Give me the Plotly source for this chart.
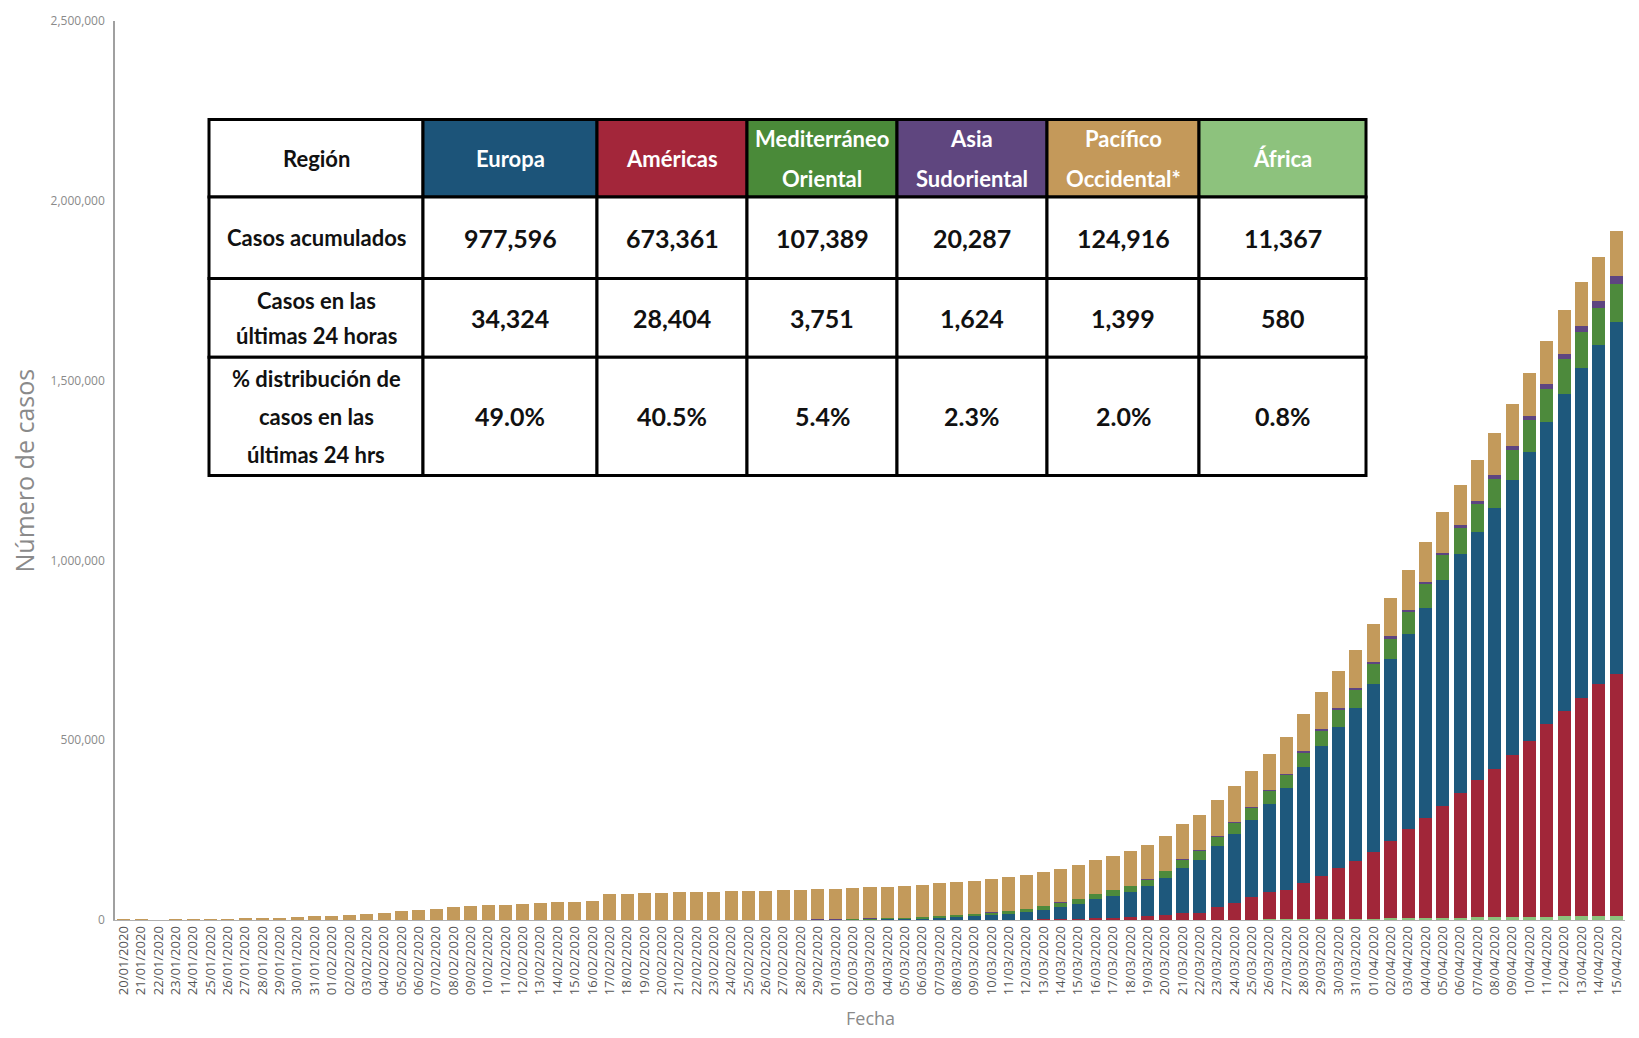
"""
COVID-19 casos acumulados por región OMS — barras apiladas con tabla resumen
"""

import pandas as pd
import plotly.graph_objects as go

# ---- datos ---------------------------------------------------------------
fechas = pd.date_range("2020-01-20", "2020-04-15").strftime("%d/%m/%Y").tolist()

africa = [
    0, 0, 0, 0, 0, 0, 0, 0, 0, 0, 0, 0, 0, 0, 0, 0, 0, 0, 0, 0, 0, 0, 0, 0, 0,
    0, 0, 0, 0, 0, 0, 0, 0, 0, 0, 0, 1, 1, 1, 2, 2, 2, 3, 3, 5, 6, 8, 10, 12,
    15, 20, 25, 30, 40, 60, 90, 130, 170, 250, 330, 470, 600, 800, 900, 1100,
    1300, 1600, 1800, 2100, 2500, 2900, 3300, 3900, 4400, 5000, 5500, 6000,
    6600, 7100, 7600, 8400, 9000, 9700, 10100, 10500, 10787, 11367,
]
americas = [
    0, 1, 0, 1, 1, 2, 3, 5, 6, 7, 8, 9, 10, 11, 15, 15, 16, 17, 19, 19, 19,
    19, 20, 20, 22, 22, 22, 23, 23, 23, 23, 24, 24, 24, 35, 53, 53, 59, 61,
    65, 70, 80, 95, 110, 130, 160, 230, 300, 380, 470, 600, 800, 1100, 1600,
    2100, 2800, 4300, 5200, 6900, 9500, 13500, 18000, 18500, 36000, 47000,
    62000, 75000, 81000, 101000, 120000, 143000, 160000, 185000, 216000,
    249000, 278000, 312000, 346000, 383000, 413000, 450000, 489000, 534000,
    571000, 607000, 644957, 673361,
]
europa = [
    0, 0, 0, 0, 0, 3, 3, 3, 4, 8, 10, 13, 22, 23, 28, 28, 30, 31, 31, 35, 37,
    39, 41, 44, 45, 45, 46, 46, 46, 46, 47, 47, 47, 48, 80, 130, 240, 400, 650,
    890, 1300, 1600, 2200, 2500, 3000, 3600, 4500, 6000, 7700, 9900, 12500,
    16000, 21000, 26800, 34379, 42877, 53185, 61691, 69927, 83859, 101603,
    126073, 148142, 167880, 192407, 215579, 247034, 283264, 321628, 361035,
    391724, 426490, 468126, 504850, 541303, 585435, 627158, 663956, 689422,
    726261, 764798, 803652, 841009, 882888, 916484, 943272, 977596,
]
mediterraneo = [
    0, 0, 0, 0, 0, 0, 0, 0, 0, 4, 4, 4, 4, 5, 5, 5, 5, 5, 5, 7, 7, 7, 8, 8,
    8, 8, 8, 9, 9, 9, 9, 12, 20, 36, 40, 72, 130, 190, 270, 400, 500, 700,
    1000, 1700, 2500, 3000, 3900, 5000, 6100, 7100, 7900, 8700, 9600, 10700,
    12000, 13400, 14800, 16500, 18000, 19500, 21000, 23000, 25500, 28000,
    31000, 33000, 35500, 38500, 41000, 44000, 47000, 51000, 55000, 58000,
    62000, 65500, 69000, 72500, 76000, 80000, 84000, 88000, 92000, 96000,
    100000, 103638, 107389,
]
asia_sudoriental = [
    2, 2, 0, 4, 5, 5, 8, 9, 9, 15, 16, 16, 21, 22, 23, 28, 28, 29, 29, 35, 35,
    35, 36, 36, 36, 36, 37, 37, 37, 37, 38, 38, 38, 38, 38, 38, 38, 38, 40, 40,
    42, 42, 43, 45, 50, 75, 80, 85, 90, 95, 100, 110, 150, 250, 300, 350, 400,
    450, 550, 650, 800, 1000, 1200, 1450, 1750, 2000, 2350, 2600, 2950, 3300,
    3600, 4100, 4600, 5200, 6000, 6700, 7600, 8400, 9200, 10000, 11000, 12300,
    13600, 14900, 16500, 18663, 20287,
]
pacifico = [
    280, 311, 0, 576, 840, 1310, 2000, 2781, 4574, 6031, 7780, 9784, 11896,
    14496, 17320, 20554, 24475, 28194, 31397, 34790, 37460, 40454, 42998,
    45063, 46886, 48942, 50467, 51742, 71314, 73217, 75087, 75627, 76640,
    77648, 78618, 79038, 79777, 80421, 81272, 82255, 83489, 84713, 85607,
    86512, 87405, 88483, 89474, 90532, 91304, 91997, 92582, 92684, 93168,
    93368, 93700, 94000, 94700, 95100, 95500, 96000, 96700, 97400, 98000,
    98700, 99500, 100300, 101200, 102000, 103000, 104000, 105000, 106000,
    107000, 108000, 109000, 110500, 112000, 113500, 115000, 116500, 118000,
    119300, 120600, 121700, 122600, 123517, 124916,
]

# tabla resumen
encabezados = [["Europa"], ["Américas"], ["Mediterráneo", "Oriental"],
               ["Asia", "Sudoriental"], ["Pacífico", "Occidental*"], ["África"]]
casos_acumulados = [977596, 673361, 107389, 20287, 124916, 11367]
casos_24h = [34324, 28404, 3751, 1624, 1399, 580]
distribucion_pct = [49.0, 40.5, 5.4, 2.3, 2.0, 0.8]
etiquetas_filas = [["Región"], ["Casos acumulados"], ["Casos en las", "últimas 24 horas"],
                   ["% distribución de", "casos en las", "últimas 24 hrs"]]

# ---- estilo --------------------------------------------------------------
W, H = 1639, 1038
M_L, M_R, M_T, M_B = 115, 14, 16, 118

COLORES = {
    "África": "#8CC27C",
    "Américas": "#A12639",
    "Europa": "#1E587C",
    "Mediterráneo Oriental": "#4D8A3C",
    "Asia Sudoriental": "#5E4581",
    "Pacífico Occidental": "#C39A5B",
}
COLOR_ENC = ["#1C5479", "#A3263A", "#4A8A39", "#5F467F", "#C4995A", "#8DC27D"]

TABLE_FONT = "Lato"
AXIS_FONT = "Open Sans"


def px(x):
    return (x - M_L) / (W - M_L - M_R)


def py(y):
    return (H - M_B - y) / (H - M_T - M_B)


fig = go.Figure()
for nombre, valores in [
    ("África", africa),
    ("Américas", americas),
    ("Europa", europa),
    ("Mediterráneo Oriental", mediterraneo),
    ("Asia Sudoriental", asia_sudoriental),
    ("Pacífico Occidental", pacifico),
]:
    fig.add_trace(go.Bar(x=fechas, y=valores, name=nombre,
                         marker=dict(color=COLORES[nombre], line_width=0)))

# ---- tabla (celdas dibujadas como formas) -----------------------------------
col_x = [209, 423, 597, 747, 897, 1047, 1199, 1366]
row_y = [115, 193, 275, 354, 473]
row_gap = [40, 38, 35, 38]  # separación entre líneas de texto por fila

filas = [
    None,
    [f"{v:,}" for v in casos_acumulados],
    [f"{v:,}" for v in casos_24h],
    [f"{v:.1f}%" for v in distribucion_pct],
]


def add_lines(lines, x0, x1, y0, y1, gap, size, color):
    cx = (x0 + x1) / 2
    cy = (y0 + y1) / 2
    n = len(lines)
    for k, t in enumerate(lines):
        yy = cy + (k - (n - 1) / 2) * gap
        fig.add_annotation(
            x=px(cx), y=py(yy), xref="paper", yref="paper", text=t,
            showarrow=False, xanchor="center", yanchor="middle",
            font=dict(family=TABLE_FONT, size=size, color=color, weight="bold"),
        )


for r in range(4):
    y0, y1 = row_y[r], row_y[r + 1]
    for c in range(7):
        x0, x1 = col_x[c], col_x[c + 1]
        fill = "white" if (r > 0 or c == 0) else COLOR_ENC[c - 1]
        fig.add_shape(type="rect", xref="paper", yref="paper",
                      x0=px(x0), x1=px(x1), y0=py(y1), y1=py(y0),
                      fillcolor=fill, line=dict(color="black", width=3))
        if c == 0:
            add_lines(etiquetas_filas[r], x0, x1, y0, y1, row_gap[r], 22, "#111111")
        elif r == 0:
            add_lines(encabezados[c - 1], x0, x1, y0, y1, row_gap[r], 22, "white")
        else:
            add_lines([filas[r][c - 1]], x0, x1, y0, y1, row_gap[r], 25, "#111111")

# ---- títulos de ejes ----------------------------------------------------
fig.add_annotation(x=px(23), y=0.5, xref="paper", yref="paper",
                   xanchor="center", yanchor="middle",
                   text="Número de casos", textangle=-90, showarrow=False,
                   font=dict(family=AXIS_FONT, size=25, color="#8a8a8a"))
fig.add_annotation(x=0.5, y=py(1019), xref="paper", yref="paper",
                   xanchor="center", yanchor="middle",
                   text="Fecha", showarrow=False,
                   font=dict(family=AXIS_FONT, size=18, color="#8a8a8a"))

fig.update_layout(
    barmode="stack",
    bargap=0.25,
    width=W,
    height=H,
    margin=dict(l=M_L, r=M_R, t=M_T, b=M_B),
    showlegend=False,
    paper_bgcolor="#FFFFFF",
    plot_bgcolor="#FFFFFF",
    xaxis=dict(
        type="category", tickangle=-90, showgrid=False, ticks="",
        tickfont=dict(family=AXIS_FONT, size=13, color="#555555"),
        showline=True, linecolor="#b0b0b0", linewidth=1,
    ),
    yaxis=dict(
        range=[0, 2500000], tickvals=[0, 500000, 1000000, 1500000, 2000000, 2500000],
        tickformat=",", showgrid=False, zeroline=False, ticks="",
        ticklabelstandoff=6,
        tickfont=dict(family=AXIS_FONT, size=12, color="#8a8a8a"),
        showline=True, linecolor="#a0a0a0", linewidth=1.5,
    ),
)

fig.write_html("out.html", config={"displayModeBar": False},
               post_script="document.body.style.margin='0px';")
